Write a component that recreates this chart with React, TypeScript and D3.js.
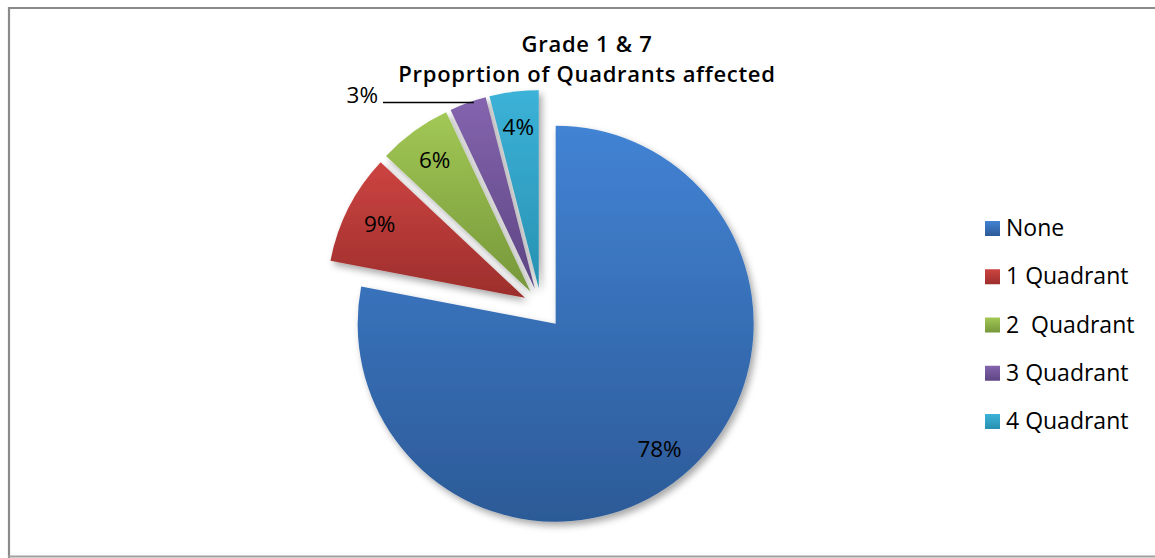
import React from "react";
import * as d3 from "d3";

const categories = ["None", "1 Quadrant", "2  Quadrant", "3 Quadrant", "4 Quadrant"];
const values = [78, 9, 6, 3, 4];
const labels = ["78%", "9%", "6%", "3%", "4%"];
const titleLines = ["Grade 1 & 7", "Prpoprtion of Quadrants affected"];

const colorsTop = ["#4283d4", "#cc4441", "#a2c855", "#8464ae", "#3cb2d8"];
const colorsBottom = ["#2c5a97", "#9c2e2c", "#76973a", "#5d4583", "#2791b1"];

const W = 1155;
const H = 558;
const cx = 541;
const cy = 306;
const R = 198;
const explode = [23, 18, 18, 18, 18];
const font = "'Open Sans', sans-serif";

export default function App() {
  const pie = d3.pie<number>().sort(null).startAngle(0).endAngle(2 * Math.PI);
  const arcs = pie(values);
  const arc = d3.arc<d3.PieArcDatum<number>>().innerRadius(0).outerRadius(R);
  const labelArc = d3.arc<d3.PieArcDatum<number>>().innerRadius(163).outerRadius(163);

  const off = (a: d3.PieArcDatum<number>, i: number) => {
    const m = (a.startAngle + a.endAngle) / 2;
    return [Math.sin(m) * explode[i], -Math.cos(m) * explode[i]];
  };

  const legendY = d3.scalePoint<string>().domain(categories).range([236, 429]);

  return (
    <svg width={W} height={H} style={{ position: "absolute", left: 0, top: 0 }}>
      <defs>
        {categories.map((c, i) => (
          <linearGradient key={c} id={`g${i}`} x1="0" y1="0" x2="0" y2="1">
            <stop offset="0" stopColor={colorsTop[i]} />
            <stop offset="1" stopColor={colorsBottom[i]} />
          </linearGradient>
        ))}
        <filter id="sh" x="-20%" y="-20%" width="140%" height="140%">
          <feDropShadow dx="3" dy="4" stdDeviation="3.5" floodColor="#000" floodOpacity="0.35" />
        </filter>
      </defs>
      <rect x={0} y={0} width={W} height={H} fill="#fff" />
      <path d={`M9,${H + 5} V8 H${W + 5}`} fill="none" stroke="#8a8a8a" strokeWidth={2.2} />
      <line x1={8} x2={W + 5} y1={556.5} y2={556.5} stroke="#a0a0a0" strokeWidth={2} />

      {titleLines.map((t, i) => (
        <text key={t} x={587} y={52 + i * 30} textAnchor="middle" fontFamily={font}
          fontSize={22} fontWeight={600} letterSpacing={0.7} fill="#000">
          {t}
        </text>
      ))}

      <g transform={`translate(${cx},${cy})`}>
        {arcs.map((a, i) => {
          const [dx, dy] = off(a, i);
          return (
            <path key={i} d={arc(a) || ""} transform={`translate(${dx},${dy})`} fill={`url(#g${i})`} filter="url(#sh)" />
          );
        })}
        {arcs.map((a, i) => {
          if (i === 3) return null;
          const [dx, dy] = off(a, i);
          const [lx, ly] = labelArc.centroid(a);
          return (
            <text key={i} x={lx + dx} y={ly + dy} dy="0.36em" textAnchor="middle" fontFamily={font} fontSize={22.5} fill="#000">
              {labels[i]}
            </text>
          );
        })}
      </g>

      {(() => {
        const a = arcs[3];
        const [dx] = off(a, 3);
        const m = (a.startAngle + a.endAngle) / 2;
        const ex = cx + dx + Math.sin(m) * R + 6;
        const ey = 102.5;
        return (
          <g>
            <line x1={383} x2={ex} y1={ey} y2={ey} stroke="#000" strokeWidth={1.3} />
            <text x={378} y={103} textAnchor="end" fontFamily={font} fontSize={22.5} fill="#000">
              {labels[3]}
            </text>
          </g>
        );
      })()}

      {categories.map((c, i) => {
        const y = legendY(c) as number;
        return (
          <g key={c}>
            <rect x={985} y={y - 15} width={15} height={15} fill={`url(#g${i})`} />
            <text x={1006} y={y} fontFamily={font} fontSize={23} fill="#000" style={{ whiteSpace: "pre" }}>
              {c}
            </text>
          </g>
        );
      })}
    </svg>
  );
}
